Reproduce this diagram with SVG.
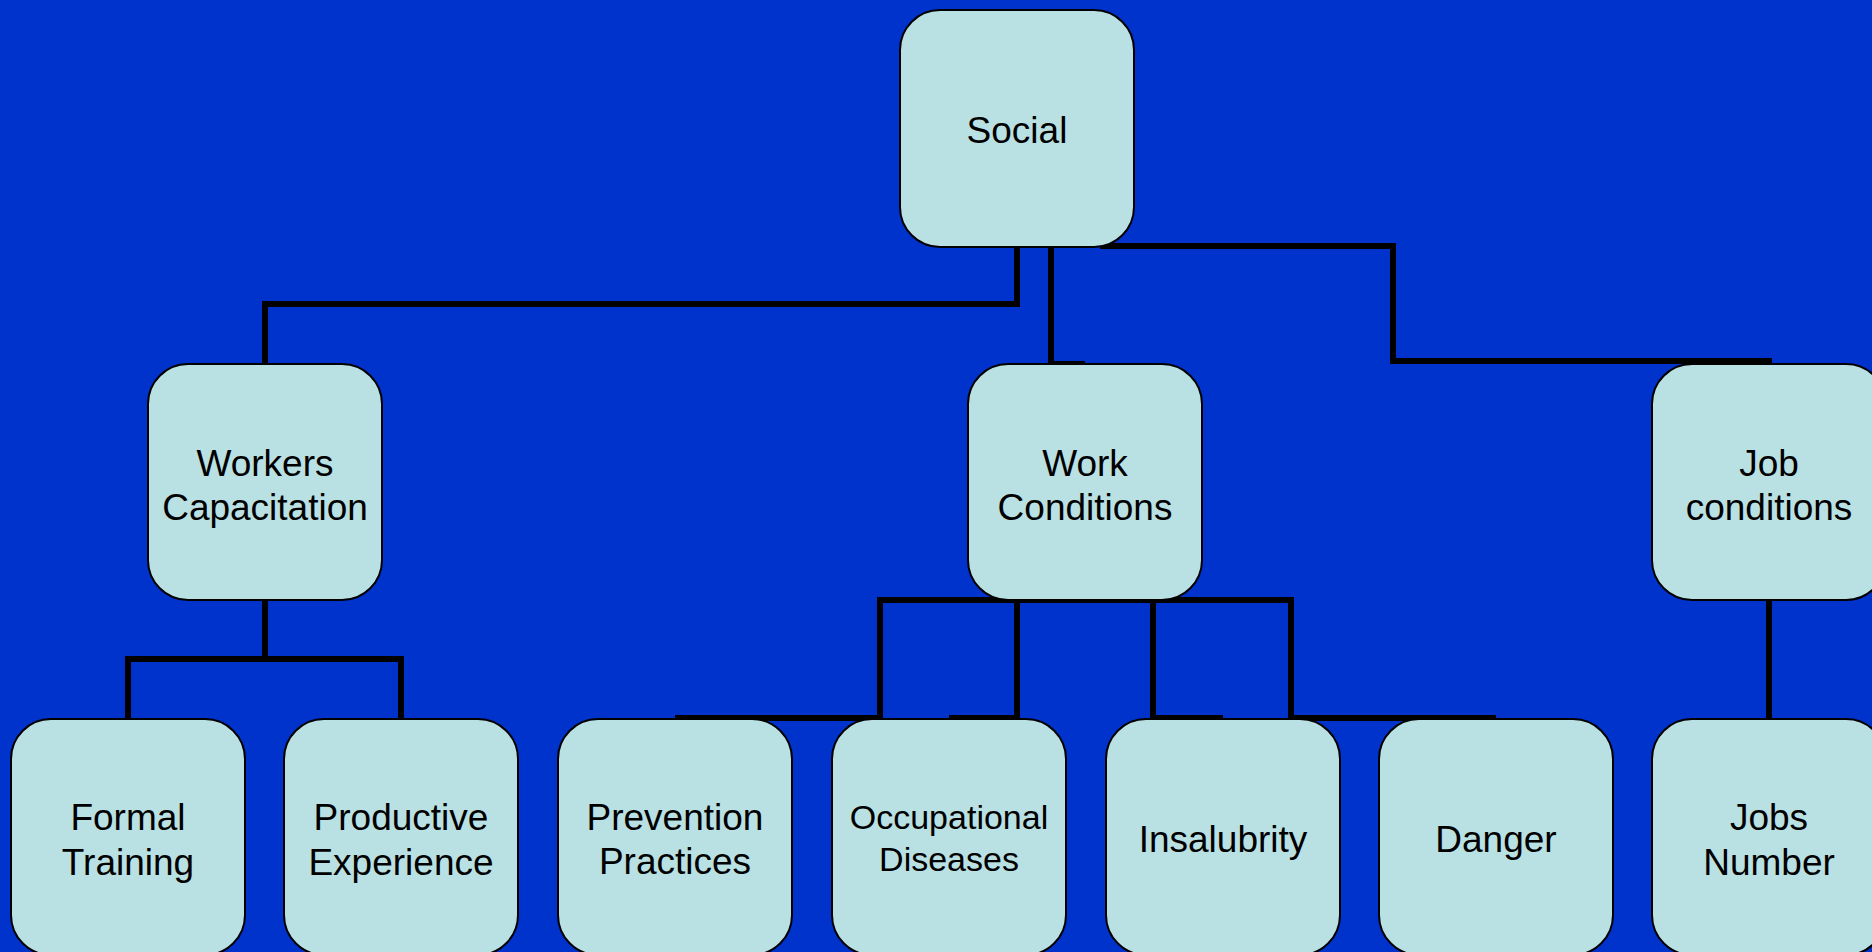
<svg xmlns="http://www.w3.org/2000/svg" width="1872" height="952" viewBox="0 0 1872 952">
<style>
.bg{fill:#0033CC}
.box{fill:#B9E0E3;stroke:#000;stroke-width:2}
.conn{fill:none;stroke:#000;stroke-width:6;stroke-linejoin:miter;stroke-linecap:butt}
.t{font-family:"Liberation Sans",Arial,sans-serif;font-size:37px;fill:#000;text-anchor:middle}
.s{font-size:34px}
</style>
<rect class="bg" x="0" y="0" width="1872" height="952"/>
<g id="connectors">
<path class="conn" d="M1017,247 V304 H265 V364"/>
<path class="conn" d="M1051,247 V364 H1085"/>
<path class="conn" d="M1100,246 H1393 V361 H1769 V364"/>
<path class="conn" d="M265,600 V659"/>
<path class="conn" d="M128,719 V659 H401 V719"/>
<path class="conn" d="M880,718 V600 H1291 V718"/>
<path class="conn" d="M1017,600 V718"/>
<path class="conn" d="M1153,600 V718"/>
<path class="conn" d="M675,718 H880"/>
<path class="conn" d="M949,718 H1017"/>
<path class="conn" d="M1153,718 H1223"/>
<path class="conn" d="M1291,718 H1496"/>
<path class="conn" d="M1769,600 V719"/>
</g>
<g id="social">
<rect class="box" x="900" y="10" width="234" height="237" rx="40"/>
<text class="t" x="1017" y="143">Social</text>
</g>
<g id="workers-capacitation">
<rect class="box" x="148" y="364" width="234" height="236" rx="40"/>
<text class="t" x="265" y="476">Workers</text>
<text class="t" x="265" y="520">Capacitation</text>
</g>
<g id="work-conditions">
<rect class="box" x="968" y="364" width="234" height="236" rx="40"/>
<text class="t" x="1085" y="476">Work</text>
<text class="t" x="1085" y="520">Conditions</text>
</g>
<g id="job-conditions">
<rect class="box" x="1652" y="364" width="234" height="236" rx="40"/>
<text class="t" x="1769" y="476">Job</text>
<text class="t" x="1769" y="520">conditions</text>
</g>
<g id="formal-training">
<rect class="box" x="11" y="719" width="234" height="236" rx="40"/>
<text class="t" x="128" y="830">Formal</text>
<text class="t" x="128" y="875">Training</text>
</g>
<g id="productive-experience">
<rect class="box" x="284" y="719" width="234" height="236" rx="40"/>
<text class="t" x="401" y="830">Productive</text>
<text class="t" x="401" y="875">Experience</text>
</g>
<g id="prevention-practices">
<rect class="box" x="558" y="719" width="234" height="236" rx="40"/>
<text class="t" x="675" y="830">Prevention</text>
<text class="t" x="675" y="874">Practices</text>
</g>
<g id="occupational-diseases">
<rect class="box" x="832" y="719" width="234" height="236" rx="40"/>
<text class="t s" x="949" y="829">Occupational</text>
<text class="t s" x="949" y="871">Diseases</text>
</g>
<g id="insalubrity">
<rect class="box" x="1106" y="719" width="234" height="236" rx="40"/>
<text class="t" x="1223" y="852">Insalubrity</text>
</g>
<g id="danger">
<rect class="box" x="1379" y="719" width="234" height="236" rx="40"/>
<text class="t" x="1496" y="852">Danger</text>
</g>
<g id="jobs-number">
<rect class="box" x="1652" y="719" width="234" height="236" rx="40"/>
<text class="t" x="1769" y="830">Jobs</text>
<text class="t" x="1769" y="875">Number</text>
</g>
</svg>
